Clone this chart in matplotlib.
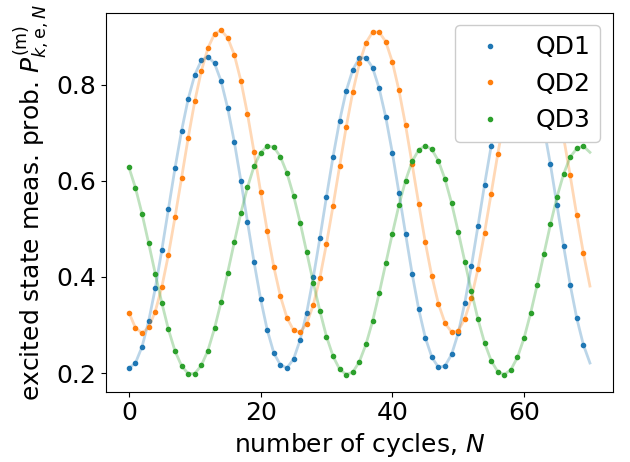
import matplotlib
matplotlib.use("Agg")
import matplotlib.pyplot as plt
import numpy as np

# Number of cycles (measured points)
cycles = list(range(70))

qd1 = [0.210, 0.221, 0.255, 0.308, 0.376, 0.456, 0.541, 0.626, 0.704, 0.770,
       0.820, 0.850, 0.858, 0.844, 0.807, 0.751, 0.681, 0.600, 0.515, 0.431,
       0.354, 0.290, 0.242, 0.217, 0.211, 0.229, 0.269, 0.326, 0.399, 0.481,
       0.567, 0.650, 0.725, 0.787, 0.831, 0.855, 0.856, 0.835, 0.792, 0.732,
       0.658, 0.575, 0.490, 0.407, 0.333, 0.274, 0.233, 0.212, 0.215, 0.239,
       0.283, 0.346, 0.422, 0.506, 0.592, 0.672, 0.740, 0.800, 0.840, 0.856,
       0.850, 0.820, 0.770, 0.710, 0.634, 0.549, 0.464, 0.384, 0.314, 0.259]

qd2 = [0.326, 0.294, 0.283, 0.295, 0.328, 0.379, 0.446, 0.524, 0.606, 0.689,
       0.765, 0.828, 0.876, 0.905, 0.913, 0.897, 0.862, 0.808, 0.739, 0.660,
       0.577, 0.496, 0.421, 0.360, 0.315, 0.289, 0.285, 0.303, 0.342, 0.398,
       0.469, 0.548, 0.631, 0.712, 0.785, 0.844, 0.887, 0.909, 0.909, 0.889,
       0.847, 0.788, 0.716, 0.635, 0.552, 0.472, 0.401, 0.344, 0.304, 0.285,
       0.288, 0.313, 0.356, 0.417, 0.492, 0.573, 0.655, 0.730, 0.800, 0.855,
       0.895, 0.910, 0.905, 0.875, 0.825, 0.760, 0.690, 0.611, 0.528, 0.450]

qd3 = [0.628, 0.585, 0.531, 0.470, 0.407, 0.346, 0.291, 0.246, 0.215, 0.199,
       0.199, 0.216, 0.247, 0.293, 0.348, 0.409, 0.472, 0.533, 0.586, 0.630,
       0.658, 0.672, 0.670, 0.650, 0.616, 0.569, 0.513, 0.451, 0.388, 0.329,
       0.276, 0.235, 0.208, 0.197, 0.202, 0.224, 0.260, 0.308, 0.366, 0.428,
       0.490, 0.549, 0.600, 0.640, 0.664, 0.673, 0.665, 0.641, 0.603, 0.553,
       0.494, 0.432, 0.370, 0.312, 0.263, 0.226, 0.203, 0.197, 0.207, 0.233,
       0.273, 0.325, 0.384, 0.447, 0.509, 0.566, 0.614, 0.649, 0.667, 0.672]

# Fit curves extend one cycle beyond the last measured point
fit_cycles = list(range(71))
qd1_fit = qd1 + [0.221]
qd2_fit = qd2 + [0.381]
qd3_fit = qd3 + [0.659]

labels = ["QD1", "QD2", "QD3"]
colors = ["#1f77b4", "#ff7f0e", "#2ca02c"]

fig = plt.figure(figsize=(6.3, 4.62), dpi=100)
ax = fig.add_axes([0.168, 0.152, 0.805, 0.820])

for y, yf, lab, c in zip([qd1, qd2, qd3], [qd1_fit, qd2_fit, qd3_fit], labels, colors):
    ax.plot(fit_cycles, yf, '-', color=c, alpha=0.3, lw=2)
    ax.plot(cycles, y, '.', color=c, label=lab)

ax.set_xticks([0, 20, 40, 60])
ax.set_yticks([0.2, 0.4, 0.6, 0.8])
ax.tick_params(labelsize=18)
ax.set_xlabel("number of cycles, $N$", fontsize=18)
ax.set_ylabel(r"excited state meas. prob. $P^{(\mathrm{m})}_{k,\mathrm{e},N}$", fontsize=18)
ax.legend(loc="upper right", fontsize=18, handlelength=2.0, framealpha=1.0)

fig.savefig("out.png", dpi=100)
